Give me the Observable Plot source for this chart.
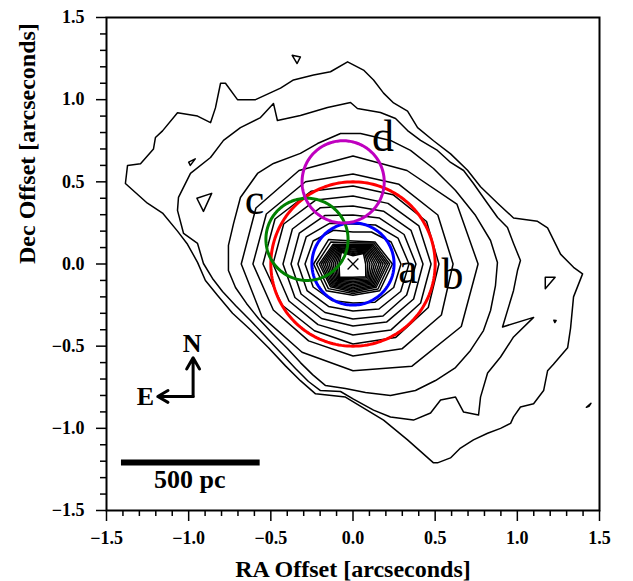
<!DOCTYPE html>
<html>
<head>
<meta charset="utf-8">
<script src="https://cdn.jsdelivr.net/npm/d3@7"></script>
<script src="https://cdn.jsdelivr.net/npm/@observablehq/plot@0.6"></script>
<style>
  body { margin: 0; background: #fff; }
  #chart svg { display: block; }
</style>
</head>
<body>
<div id="chart"></div>
<script>
// Axis ticks (arcsec offsets)
const majorTicks = [-1.5, -1.0, -0.5, 0.0, 0.5, 1.0, 1.5];
const minorTicks = [-1.4, -1.3, -1.2, -1.1, -0.9, -0.8, -0.7, -0.6, -0.4, -0.3, -0.2, -0.1,
                    0.1, 0.2, 0.3, 0.4, 0.6, 0.7, 0.8, 0.9, 1.1, 1.2, 1.3, 1.4];

// Outermost isophote, vertex list [RA, Dec] in arcsec
const isoLevel1 = [
  [-1.385, 0.49], [-1.372, 0.60], [-1.293, 0.61], [-1.214, 0.70], [-1.202, 0.77], [-1.159, 0.81],
  [-1.068, 0.92], [-0.946, 0.90], [-0.867, 0.86], [-0.837, 0.95], [-0.806, 1.10], [-0.776, 1.10],
  [-0.703, 1.00], [-0.593, 1.00], [-0.441, 1.07], [-0.362, 1.12], [-0.240, 1.15], [-0.137, 1.17],
  [-0.033, 1.23], [0.064, 1.18], [0.125, 1.12], [0.186, 1.04], [0.247, 0.98], [0.332, 0.93],
  [0.393, 0.83], [0.490, 0.75], [0.594, 0.67], [0.697, 0.57], [0.776, 0.47], [0.880, 0.37],
  [0.977, 0.28], [1.123, 0.26], [1.184, 0.22], [1.263, 0.06], [1.342, -0.02], [1.397, -0.06],
  [1.342, -0.20], [1.324, -0.39], [1.306, -0.51], [1.220, -0.61], [1.184, -0.65], [1.160, -0.77],
  [1.099, -0.85], [1.019, -0.87], [0.977, -0.93], [0.959, -0.97], [0.898, -1.00], [0.819, -1.03],
  [0.733, -1.07], [0.654, -1.12], [0.593, -1.18], [0.514, -1.21], [0.490, -1.21], [0.332, -1.07],
  [0.186, -0.95], [-0.046, -0.81], [-0.228, -0.79], [-0.320, -0.71], [-0.411, -0.62], [-0.514, -0.51],
  [-0.624, -0.40], [-0.733, -0.30], [-0.825, -0.19], [-0.898, -0.10], [-0.946, 0.01], [-1.007, 0.12],
  [-1.068, 0.20], [-1.159, 0.31], [-1.251, 0.37]
];

// Second isophote
const isoLevel2 = [
  [-1.068, 0.326], [-1.031, 0.186], [-0.946, 0.125], [-0.910, 0.003], [-0.855, -0.088], [-0.794, -0.167],
  [-0.715, -0.253], [-0.624, -0.344], [-0.532, -0.441], [-0.441, -0.539], [-0.350, -0.636], [-0.271, -0.715],
  [-0.198, -0.770], [-0.076, -0.776], [0.003, -0.822], [0.125, -0.889], [0.228, -0.931], [0.368, -0.950],
  [0.472, -0.907], [0.533, -0.828], [0.624, -0.810], [0.673, -0.901], [0.764, -0.919], [0.776, -0.810],
  [0.819, -0.663], [0.898, -0.566], [0.977, -0.444], [1.099, -0.325], [0.910, -0.383], [0.977, -0.161],
  [1.001, -0.040], [1.019, 0.021], [0.977, 0.125], [0.940, 0.222], [0.880, 0.283], [0.819, 0.368],
  [0.733, 0.490], [0.673, 0.569], [0.594, 0.618], [0.514, 0.691], [0.411, 0.752], [0.332, 0.812],
  [0.259, 0.885], [0.167, 0.922], [0.027, 0.946], [-0.015, 0.983], [-0.155, 0.952], [-0.320, 0.904],
  [-0.460, 0.873], [-0.484, 0.977], [-0.563, 0.891], [-0.685, 0.830], [-0.788, 0.752], [-0.867, 0.648],
  [-0.989, 0.551], [-1.062, 0.405]
];

// Third isophote
const isoLevel3 = [
  [-0.727, 0.246], [-0.685, 0.405], [-0.581, 0.551], [-0.484, 0.612], [-0.320, 0.673], [-0.216, 0.733],
  [-0.076, 0.794], [0.046, 0.794], [0.228, 0.752], [0.350, 0.691], [0.490, 0.581], [0.624, 0.447],
  [0.746, 0.295], [0.837, 0.143], [0.879, 0.009], [0.867, -0.131], [0.837, -0.283], [0.794, -0.405],
  [0.715, -0.526], [0.624, -0.630], [0.502, -0.709], [0.380, -0.770], [0.228, -0.800], [0.076, -0.782],
  [-0.046, -0.758], [-0.167, -0.740], [-0.246, -0.673], [-0.320, -0.600], [-0.399, -0.514], [-0.490, -0.423],
  [-0.575, -0.332], [-0.648, -0.240], [-0.715, -0.143], [-0.758, -0.040], [-0.758, 0.113]
];

// Small isolated islands at the outer level
const islands = [
  [[-0.37, 1.27], [-0.32, 1.26], [-0.34, 1.22]],
  [[1.17, -0.08], [1.23, -0.08], [1.17, -0.15]],
  [[-1.00, 0.62], [-0.96, 0.64], [-0.99, 0.60]],
  [[-0.95, 0.40], [-0.86, 0.43], [-0.91, 0.32]],
  [[1.222, -0.342], [1.236, -0.344], [1.228, -0.356]],
  [[1.420, -0.872], [1.448, -0.848], [1.436, -0.866]]
];

// Intermediate isophotes: radius (arcsec) at 30-degree steps, starting east, counterclockwise
const midAngles = [0, 30, 60, 90, 120, 150, 180, 210, 240, 270, 300, 330];
const midRadii = [
  [0.292, 0.268, 0.225, 0.195, 0.237, 0.280, 0.292, 0.280, 0.256, 0.237, 0.268, 0.286],
  [0.341, 0.316, 0.274, 0.243, 0.286, 0.329, 0.335, 0.323, 0.298, 0.286, 0.316, 0.335],
  [0.383, 0.359, 0.323, 0.298, 0.341, 0.377, 0.377, 0.365, 0.341, 0.335, 0.365, 0.377],
  [0.426, 0.408, 0.371, 0.353, 0.396, 0.426, 0.426, 0.408, 0.383, 0.377, 0.408, 0.426],
  [0.475, 0.463, 0.426, 0.414, 0.450, 0.487, 0.487, 0.450, 0.426, 0.432, 0.463, 0.475],
  [0.523, 0.517, 0.487, 0.475, 0.511, 0.548, 0.548, 0.499, 0.469, 0.487, 0.517, 0.529],
  [0.609, 0.596, 0.560, 0.548, 0.578, 0.609, 0.609, 0.560, 0.540, 0.560, 0.596, 0.621],
  [0.761, 0.730, 0.657, 0.657, 0.657, 0.682, 0.680, 0.640, 0.620, 0.650, 0.718, 0.761]
];

// Nuclear isophotes: radius (arcsec) at 45-degree steps (E, NE, N, NW, W, SW, S, SE)
const coreAngles = [0, 45, 90, 135, 180, 225, 270, 315];
const coreRadii = [
  [0.077, 0.090, 0.050, 0.100, 0.085, 0.115, 0.080, 0.110],
  [0.090, 0.098, 0.057, 0.107, 0.097, 0.123, 0.089, 0.119],
  [0.103, 0.106, 0.064, 0.114, 0.109, 0.131, 0.098, 0.128],
  [0.117, 0.114, 0.071, 0.121, 0.121, 0.139, 0.107, 0.137],
  [0.130, 0.122, 0.078, 0.128, 0.133, 0.147, 0.116, 0.146],
  [0.143, 0.130, 0.085, 0.135, 0.145, 0.155, 0.125, 0.155],
  [0.157, 0.138, 0.092, 0.143, 0.157, 0.163, 0.134, 0.164],
  [0.170, 0.146, 0.099, 0.150, 0.169, 0.171, 0.143, 0.173],
  [0.183, 0.154, 0.106, 0.157, 0.181, 0.179, 0.152, 0.182],
  [0.197, 0.162, 0.113, 0.164, 0.193, 0.187, 0.161, 0.191],
  [0.210, 0.170, 0.120, 0.171, 0.205, 0.195, 0.170, 0.200],
  [0.223, 0.180, 0.130, 0.190, 0.222, 0.212, 0.180, 0.215],
  [0.240, 0.190, 0.140, 0.210, 0.240, 0.230, 0.190, 0.230]
];

// Photometric apertures: label, centre RA, centre Dec, radius (arcsec), colour
const apertureNames = ["a", "b", "c", "d"];
const apertureRA = [0.0, 0.0, -0.28, -0.06];
const apertureDec = [0.0, 0.0, 0.15, 0.50];
const apertureRadius = [0.25, 0.50, 0.25, 0.25];
const apertureColor = ["#0000ff", "#ff0000", "#008000", "#bf00bf"];
// Aperture label anchors (baseline centre)
const labelRA = [0.335, 0.606, -0.600, 0.183];
const labelDec = [-0.113, -0.155, 0.307, 0.685];

// Compass and scale bar
const compassCorner = [-0.973, -0.806];
const compassNorthTip = [-0.973, -0.571];
const compassEastTip = [-1.188, -0.806];
const compassLabels = [{t: "N", x: -0.979, y: -0.537}, {t: "E", x: -1.263, y: -0.861}];
const scaleBarRA = [-1.412, -0.568];
const scaleBarDec = -1.208;
const scaleBarLabel = {t: "500 pc", x: -0.993, y: -1.366};

// ---- build line tables ----
const rad = Math.PI / 180;
const rings = [];
rings.push({id: "L1", pts: isoLevel1});
rings.push({id: "L2", pts: isoLevel2});
rings.push({id: "L3", pts: isoLevel3});
islands.forEach((p, i) => rings.push({id: "island" + i, pts: p}));
midRadii.forEach((r, i) => rings.push({id: "mid" + i, pts: r.map((v, k) => [v * Math.cos(midAngles[k] * rad), v * Math.sin(midAngles[k] * rad)])}));
coreRadii.forEach((r, i) => rings.push({id: "core" + i, pts: r.map((v, k) => [v * Math.cos(coreAngles[k] * rad), v * Math.sin(coreAngles[k] * rad)])}));
const contourRows = rings.flatMap(r => r.pts.map(([x, y]) => ({id: r.id, x, y})));

const circleRows = [];
apertureNames.forEach((n, i) => {
  for (let k = 0; k < 180; k++) {
    const a = (k / 180) * 2 * Math.PI;
    circleRows.push({id: n, color: apertureColor[i],
      x: apertureRA[i] + apertureRadius[i] * Math.cos(a),
      y: apertureDec[i] + apertureRadius[i] * Math.sin(a)});
  }
});
const labelRows = apertureNames.map((n, i) => ({t: n, x: labelRA[i], y: labelDec[i]}));

const fmt = d => d.toFixed(1).replace("-", "\u2212");
const blank = () => "";
const serif = "'Liberation Serif', 'Times New Roman', serif";

const chart = Plot.plot({
  width: 633,
  height: 581,
  marginLeft: 106,
  marginRight: 34,
  marginTop: 17,
  marginBottom: 71,
  style: {fontFamily: serif, fontWeight: "bold", fontSize: "18px", background: "#fff", color: "#000"},
  x: {domain: [-1.5, 1.5]},
  y: {domain: [-1.5, 1.5]},
  marks: [
    Plot.line(contourRows, {x: "x", y: "y", z: "id", curve: "linear-closed", stroke: "#000", strokeWidth: 1.5, clip: true}),
    Plot.line(circleRows, {x: "x", y: "y", z: "id", curve: "linear-closed", stroke: "color", strokeWidth: 3}),
    Plot.dot([[0, 0]], {x: d => d[0], y: d => d[1], symbol: "times", r: 5, stroke: "#000", strokeWidth: 1.3}),
    Plot.text(labelRows, {x: "x", y: "y", text: "t", lineAnchor: "bottom", fontSize: 44, fontWeight: "normal", fill: "#000"}),
    Plot.arrow([0], {x1: compassCorner[0], y1: compassCorner[1], x2: compassNorthTip[0], y2: compassNorthTip[1], stroke: "#000", strokeWidth: 3, headLength: 9, bend: 0}),
    Plot.arrow([0], {x1: compassCorner[0], y1: compassCorner[1], x2: compassEastTip[0], y2: compassEastTip[1], stroke: "#000", strokeWidth: 3, headLength: 9, bend: 0}),
    Plot.text(compassLabels, {x: "x", y: "y", text: "t", lineAnchor: "bottom", fontSize: 26, fontWeight: "bold"}),
    Plot.link([0], {x1: scaleBarRA[0], x2: scaleBarRA[1], y1: scaleBarDec, y2: scaleBarDec, stroke: "#000", strokeWidth: 6}),
    Plot.text([scaleBarLabel], {x: "x", y: "y", text: "t", lineAnchor: "bottom", fontSize: 26, fontWeight: "bold"}),
    Plot.axisX({ticks: minorTicks, tickSize: 6, tickFormat: blank, strokeWidth: 1.5, label: null}),
    Plot.axisX({ticks: majorTicks, tickSize: 11, tickPadding: 10, tickFormat: fmt, strokeWidth: 1.5, label: null}),
    Plot.axisY({ticks: minorTicks, tickSize: 6, tickFormat: blank, strokeWidth: 1.5, label: null}),
    Plot.axisY({ticks: majorTicks, tickSize: 10, tickPadding: 12, tickFormat: fmt, strokeWidth: 1.5, label: null}),
    Plot.frame({stroke: "#000", strokeWidth: 2}),
    Plot.text(["RA Offset [arcseconds]"], {frameAnchor: "bottom", dy: 59, lineAnchor: "middle", fontSize: 24, fontWeight: "bold"}),
    Plot.text(["Dec Offset [arcseconds]"], {frameAnchor: "left", dx: -79, rotate: -90, fontSize: 24, fontWeight: "bold"})
  ]
});
document.getElementById("chart").appendChild(chart);
</script>
</body>
</html>
